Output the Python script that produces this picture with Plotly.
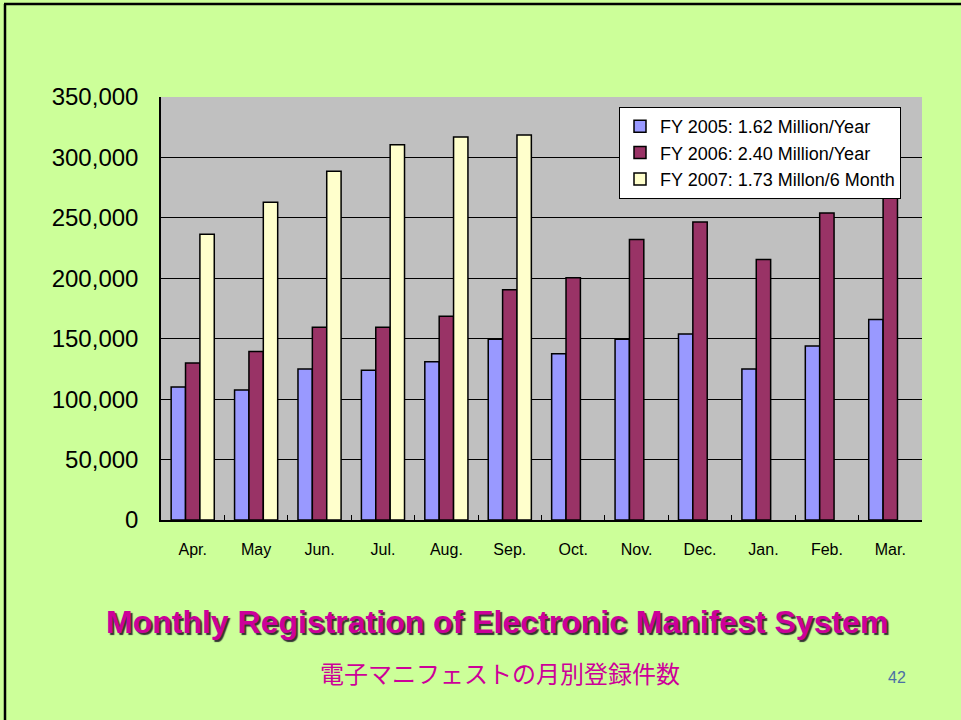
import plotly.graph_objects as go

months = ["Apr.", "May", "Jun.", "Jul.", "Aug.", "Sep.", "Oct.", "Nov.", "Dec.", "Jan.", "Feb.", "Mar."]
fy2005 = [110000, 107500, 125000, 124000, 131000, 149500, 137500, 149500, 154000, 125000, 144000, 166000]
fy2006 = [130000, 139500, 159500, 159500, 168500, 190500, 200500, 232000, 246500, 215500, 254000, 300000]
fy2007 = [236500, 263000, 288500, 310500, 317000, 318500, None, None, None, None, None, None]

names = ["FY 2005: 1.62 Million/Year", "FY 2006: 2.40 Million/Year", "FY 2007: 1.73 Millon/6 Month"]
colors = ["#9999FF", "#993366", "#FFFFCC"]
yticks = [0, 50000, 100000, 150000, 200000, 250000, 300000, 350000]

title_text = "Monthly Registration of Electronic Manifest System"
subtitle_text = "電子マニフェストの月別登録件数"
page_no = "42"

W, H = 961, 720
L, R, T, B = 161, 39, 97, 200
pw, ph = W - L - R, H - T - B


def px_x(x):
    return (x - L) / pw


def px_y(y):
    return (H - B - y) / ph


fig = go.Figure()
for i, (vals, name, col) in enumerate(zip([fy2005, fy2006, fy2007], names, colors)):
    fig.add_trace(go.Bar(
        x=months, y=vals, name=name, legendgroup=f"g{i}",
        marker=dict(color=col, line=dict(color="#000000", width=1.5)),
    ))

fig.update_layout(
    width=W, height=H,
    margin=dict(l=L, r=R, t=T, b=B, autoexpand=False),
    paper_bgcolor="#CCFF99",
    plot_bgcolor="#C0C0C0",
    barmode="group",
    bargap=0.32,
    bargroupgap=0,
    font=dict(family="Liberation Sans, Arial, sans-serif", color="#000000"),
    legend=dict(
        x=px_x(901), y=px_y(107), xanchor="right", yanchor="top",
        bgcolor="#FFFFFF", bordercolor="#000000", borderwidth=1,
        font=dict(size=18, family="Liberation Sans, Arial, sans-serif"),
        tracegroupgap=0, itemwidth=30, entrywidth=255, entrywidthmode="pixels",
    ),
    xaxis=dict(
        showline=True, linecolor="#000000", linewidth=1.5,
        ticks="inside", tickson="boundaries", ticklen=5, tickcolor="#000000",
        tickfont=dict(size=16), ticklabelstandoff=14,
        showgrid=False,
    ),
    yaxis=dict(
        range=[0, 350000], tickvals=yticks, tickformat=",",
        showline=True, linecolor="#000000", linewidth=1.5,
        ticks="inside", ticklen=6, tickcolor="#000000",
        tickfont=dict(size=24), ticklabelstandoff=16,
        showgrid=True, gridcolor="#000000", gridwidth=1,
        zeroline=False,
    ),
    annotations=[
        dict(text=f"<b>{title_text}</b>", xref="paper", yref="paper",
             x=px_x(497), y=px_y(622), xanchor="center", yanchor="middle", showarrow=False,
             font=dict(size=32, color="#CC0099", family="Liberation Sans, Arial, sans-serif",
                       shadow="2px 2px 1px #333333")),
        dict(text=subtitle_text, xref="paper", yref="paper",
             x=px_x(500), y=px_y(672), xanchor="center", yanchor="middle", showarrow=False,
             font=dict(size=24, color="#CC0099", family="Noto Sans CJK JP")),
        dict(text=page_no, xref="paper", yref="paper",
             x=px_x(897), y=px_y(677), xanchor="center", yanchor="middle", showarrow=False,
             font=dict(size=16, color="#4A6FA5", family="Liberation Sans, Arial, sans-serif")),
    ],
    shapes=[
        dict(type="line", xref="paper", yref="paper", x0=px_x(5), x1=px_x(5), y0=px_y(4), y1=px_y(725),
             line=dict(color="#000000", width=2.5)),
        dict(type="line", xref="paper", yref="paper", x0=px_x(4), x1=px_x(965), y0=px_y(4), y1=px_y(4),
             line=dict(color="#000000", width=2.5)),
    ],
)

fig.write_html(
    "out.html",
    config={"displayModeBar": False},
    post_script="document.body.style.margin='0';document.body.style.padding='0';"
                "document.body.style.overflow='hidden';document.body.style.background='#CCFF99';",
)
